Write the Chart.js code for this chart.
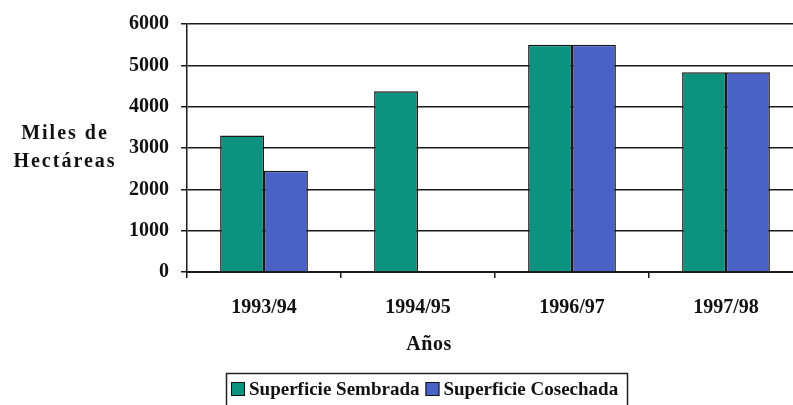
<!DOCTYPE html>
<html>
<head>
<meta charset="utf-8">
<script src="https://cdn.jsdelivr.net/npm/chart.js@4"></script>
<style>
  html, body { margin: 0; padding: 0; background: #fff; overflow: hidden; }
  #wrap { position: relative; width: 806px; height: 405px; }
</style>
</head>
<body>
<div id="wrap"><canvas id="myChart"></canvas></div>
<script>
// Data
const years = ["1993/94", "1994/95", "1996/97", "1997/98"];
const sembrada = [3300, 4370, 5500, 4830];
const cosechada = [2450, null, 5500, 4830];
const yTicks = [0, 1000, 2000, 3000, 4000, 5000, 6000];

const serif = "'Liberation Serif', 'Times New Roman', serif";
const teal = "#0c927e";
const blue = "#4a62c6";

// titles and the boxed legend
const extras = {
  id: "extras",
  afterDraw(chart) {
    const ctx = chart.ctx;
    ctx.save();
    ctx.fillStyle = "#111";
    ctx.textAlign = "center";
    ctx.textBaseline = "middle";
    ctx.font = "bold 20px " + serif;
    ctx.letterSpacing = "2px";
    ctx.fillText("Miles de", 65, 134);
    ctx.fillText("Hectáreas", 65, 162);
    ctx.letterSpacing = "0.5px";
    ctx.fillText("Años", 429, 345);

    // legend
    ctx.font = "bold 19px " + serif;
    ctx.letterSpacing = "0px";
    ctx.textAlign = "left";
    const ds = chart.data.datasets;
    let x = 231;
    const y = 389;
    ds.forEach((d) => {
      ctx.fillStyle = d.backgroundColor;
      ctx.fillRect(x, y - 7, 14, 14);
      ctx.strokeStyle = "#111";
      ctx.lineWidth = 1;
      ctx.strokeRect(x + 0.5, y - 6.5, 13, 13);
      ctx.fillStyle = "#111";
      ctx.fillText(d.label, x + 18, y + 1);
      x += 18 + ctx.measureText(d.label).width + 6;
    });
    ctx.strokeStyle = "#222";
    ctx.lineWidth = 1.5;
    ctx.strokeRect(226.5, 373.5, 401, 33);
    ctx.restore();
  },
};

const ctx = document.getElementById("myChart").getContext("2d");
const chart = new Chart(ctx, {
  type: "bar",
  data: {
    labels: years,
    datasets: [
      {
        label: "Superficie Sembrada",
        data: sembrada,
        backgroundColor: teal,
        borderColor: "#1a1a1a",
        borderWidth: 1.5,
      },
      {
        label: "Superficie Cosechada",
        data: cosechada,
        backgroundColor: blue,
        borderColor: "#1a1a1a",
        borderWidth: 1.5,
      },
    ],
  },
  options: {
    responsive: true,
    maintainAspectRatio: false,
    animation: false,
    layout: { padding: { top: 22, right: 3, left: 0, bottom: 0 } },
    datasets: { bar: { barPercentage: 1, categoryPercentage: 0.57 } },
    plugins: {
      legend: { display: false },
      tooltip: { enabled: false },
    },
    scales: {
      x: {
        afterFit: (scale) => { scale.height = 133; },
        grid: {
          offset: true,
          drawOnChartArea: false,
          color: "#1a1a1a",
          lineWidth: 1.5,
          tickLength: 6,
        },
        border: { color: "#1a1a1a", width: 2 },
        ticks: {
          color: "#111",
          padding: 18,
          font: { family: serif, size: 20, weight: "bold" },
        },
      },
      y: {
        min: 0,
        max: 6000,
        afterFit: (scale) => { scale.width = 187; },
        afterBuildTicks: (scale) => {
          scale.ticks = yTicks.map((v) => ({ value: v }));
        },
        grid: {
          color: "#1a1a1a",
          lineWidth: 1.5,
          tickLength: 6,
        },
        border: { color: "#1a1a1a", width: 1.5 },
        ticks: {
          color: "#111",
          padding: 12,
          callback: (v) => String(v),
          font: { family: serif, size: 20, weight: "bold" },
        },
      },
    },
  },
  plugins: [extras],
});
</script>
</body>
</html>
